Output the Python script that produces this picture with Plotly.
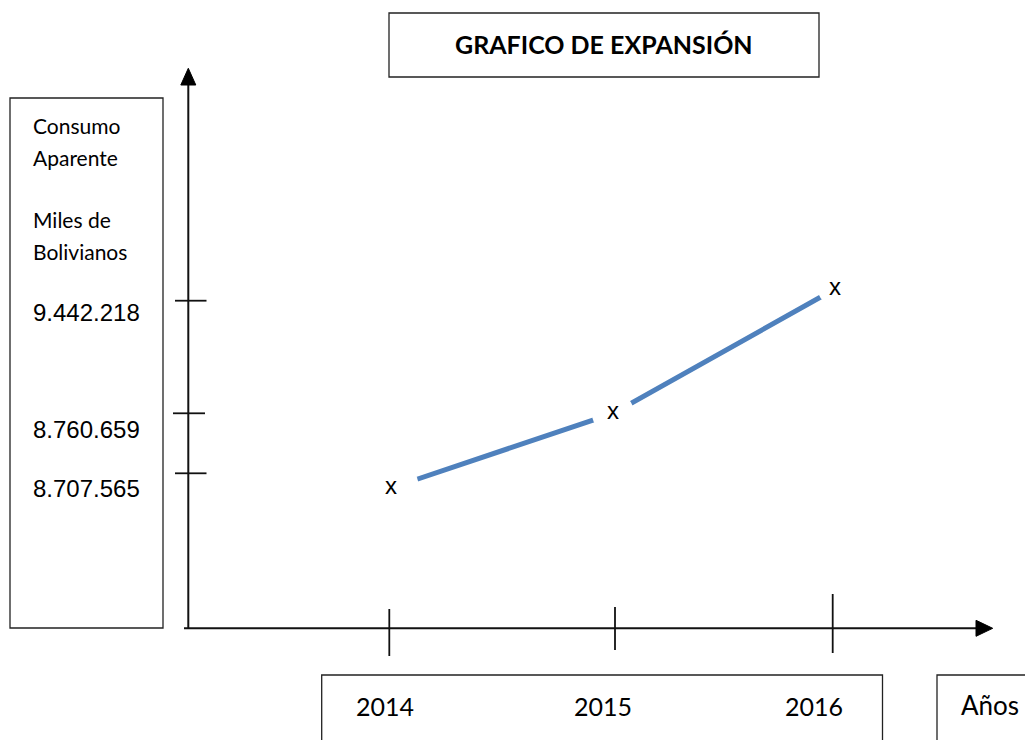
import plotly.graph_objects as go

# ---------------- data ----------------
anios = [2014, 2015, 2016]
consumo = [8707565, 8760659, 9442218]          # Consumo aparente (miles de Bs)
etiquetas_y = [f"{v:,}".replace(",", ".") for v in consumo]
etiquetas_x = [str(a) for a in anios]
titulo = "GRAFICO DE EXPANSIÓN"
titulo_y = ["Consumo", "Aparente", "Miles de", "Bolivianos"]
titulo_x = "Años"

# ---------------- layout helpers ----------------
W, H = 1033, 740
OFF = 8  # page body margin of the html page


def px(x):
    return (x - OFF) / W


def py(y):
    return 1 - (y - OFF) / H


BLUE = "#4F81BD"
BLACK = "#111111"
CAL = "Lato, 'Open Sans', sans-serif"
ARI = "'Liberation Sans', Arial, sans-serif"

# category order for the value axis (blank slots keep the hand-drawn spacing)
blank = [" " * k for k in range(1, 7)]
cat_order = ([etiquetas_y[0]] + blank[0:2] + [etiquetas_y[1]] + blank[2:6]
             + [etiquetas_y[2]])

# axis ranges chosen so the diagram lines up with the drawn frame
X_PER_YEAR = 222.0
x0 = anios[0] - (391 - OFF) / X_PER_YEAR
x1 = x0 + W / X_PER_YEAR
STEP = 24.875
r0 = -(H - (488 - OFF)) / STEP
r1 = r0 + H / STEP

fig = go.Figure()
fig.add_trace(go.Scatter(
    x=anios, y=etiquetas_y,
    mode="lines+markers+text",
    text=["x"] * len(anios),
    textposition="middle center",
    textfont=dict(family=ARI, size=24, color="black"),
    line=dict(color=BLUE, width=5),
    marker=dict(color="white", size=[56, 42, 34], opacity=1, line=dict(width=0)),
    hoverinfo="skip", showlegend=False,
))

shapes = []


def seg(xa, ya, xb, yb, w=2, c=BLACK):
    shapes.append(dict(type="line", xref="paper", yref="paper",
                       x0=px(xa), y0=py(ya), x1=px(xb), y1=py(yb),
                       line=dict(color=c, width=w)))


def rect(xa, ya, xb, yb, w=1.3, c="#222222"):
    shapes.append(dict(type="rect", xref="paper", yref="paper",
                       x0=px(xa), y0=py(ya), x1=px(xb), y1=py(yb),
                       line=dict(color=c, width=w), fillcolor="rgba(0,0,0,0)"))


def tri(pts):
    p = "M " + " L ".join(f"{px(a)},{py(b)}" for a, b in pts) + " Z"
    shapes.append(dict(type="path", xref="paper", yref="paper", path=p,
                       fillcolor="black", line=dict(color="black", width=1)))


# boxes
rect(389, 13, 819, 77)            # title box
rect(10, 98, 163, 628)            # y label box
rect(321.7, 675, 882.5, 780)      # years box (open at bottom)
rect(937, 675, 1080, 780)         # Años box

# axes
seg(188.3, 84, 188.3, 628.3)
seg(184, 628.3, 977, 628.3)
tri([(188.3, 68.3), (180.8, 85), (195.8, 85)])
tri([(992.7, 628.3), (976, 620.3), (976, 636.3)])

# y ticks
for yy, xa, xb in [(300.7, 175, 206.5), (413.3, 173, 205), (473.3, 175, 206.5)]:
    seg(xa, yy, xb, yy, w=1.8)

# x ticks
for xx, ya, yb in [(389.3, 609, 656), (615, 607, 650), (832.7, 594, 653)]:
    seg(xx, ya, xx, yb, w=1.8)

ann = []


def text(s, x, y, size, fam, xa="left", bold=False):
    ann.append(dict(text=f"<b>{s}</b>" if bold else s, xref="paper", yref="paper",
                    x=px(x), y=py(y), xanchor=xa, yanchor="middle",
                    showarrow=False, font=dict(family=fam, size=size, color="black")))


text(titulo, 604, 44, 25, CAL, xa="center", bold=True)
for s, yy in zip(titulo_y, [125, 157, 220, 252]):
    text(s, 31, yy, 21, CAL)
for s, yy in zip(etiquetas_y, [488, 429, 312]):
    text(s, 31, yy, 24, ARI)
for s, xx in zip(etiquetas_x, [385, 602.5, 814]):
    text(s, xx, 706, 25, CAL, xa="center")
text(titulo_x, 990, 705, 26, CAL, xa="center")

fig.update_layout(
    width=W, height=H,
    margin=dict(l=0, r=0, t=0, b=0),
    paper_bgcolor="white", plot_bgcolor="white",
    xaxis=dict(range=[x0, x1], visible=False, fixedrange=True),
    yaxis=dict(type="category", categoryorder="array", categoryarray=cat_order,
               range=[r0, r1], visible=False, fixedrange=True),
    shapes=shapes, annotations=ann,
)

fig.write_html("out.html")
